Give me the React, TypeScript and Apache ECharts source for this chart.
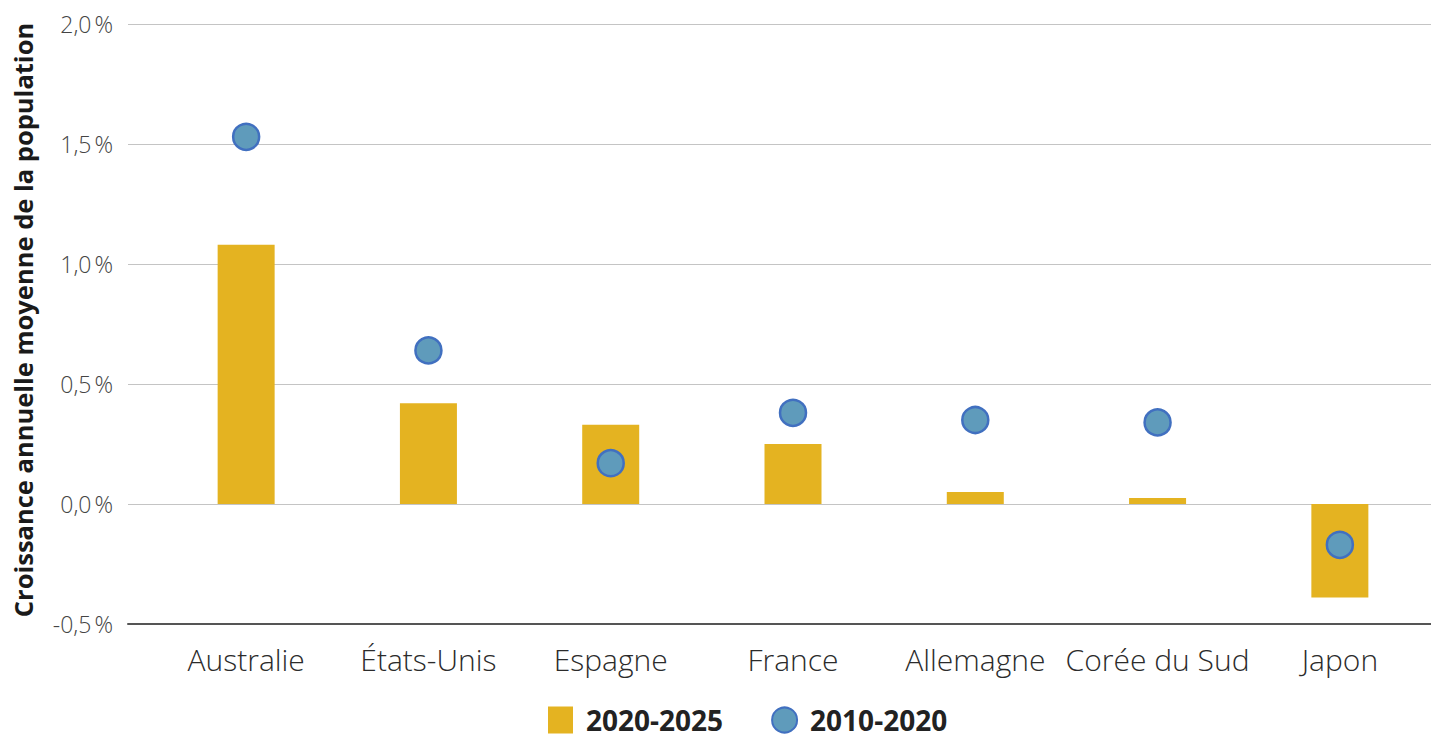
import React, { useEffect, useRef } from "react";
import * as echarts from "echarts";

const categories = ["Australie", "États-Unis", "Espagne", "France", "Allemagne", "Corée du Sud", "Japon"];
const growth2020_2025 = [1.08, 0.42, 0.33, 0.25, 0.05, 0.025, -0.39];
const growth2010_2020 = [1.53, 0.64, 0.17, 0.38, 0.35, 0.34, -0.17];
const yTicks = { min: -0.5, max: 2.0, interval: 0.5 };
const seriesNames = ["2020-2025", "2010-2020"];
const yTitle = "Croissance annuelle moyenne de la population";

const BAR = "#E4B321";
const DOT = "#5F9BBB";
const DOT_BORDER = "#4170C0";
const FONT = "'Open Sans', Lato, sans-serif";

export default function App() {
  const ref = useRef<HTMLDivElement>(null);
  useEffect(() => {
    if (!ref.current) return;
    const chart = echarts.init(ref.current, null, { renderer: "svg" });
    chart.setOption({
      animation: false,
      backgroundColor: "#ffffff",
      grid: [
        { left: 128, right: 0, top: 24, bottom: 114 },
        { left: 155, right: 0, top: 24, bottom: 114 },
      ],
      xAxis: [
        {
          gridIndex: 0,
          type: "category",
          data: [""],
          axisLine: { show: true, onZero: false, lineStyle: { color: "#555555", width: 2 } },
          axisTick: { show: false },
          axisLabel: { show: false },
          splitLine: { show: false },
        },
        {
          gridIndex: 1,
          type: "category",
          data: categories,
          axisLine: { show: false },
          axisTick: { show: false },
          axisLabel: {
            interval: 0,
            fontFamily: FONT,
            fontSize: 30,
            fontWeight: 300,
            color: "#2b2b2b",
            margin: 20,
          },
        },
      ],
      yAxis: [
        {
          gridIndex: 0,
          type: "value",
          min: yTicks.min,
          max: yTicks.max,
          interval: yTicks.interval,
          name: yTitle,
          nameLocation: "middle",
          nameGap: 92,
          nameTextStyle: {
            fontFamily: FONT,
            fontSize: 25.5,
            fontWeight: "bold",
            color: "#1a1a1a",
            padding: [0, 0, 0, 8],
          },
          axisLine: { show: false },
          axisTick: { show: false },
          axisLabel: {
            fontFamily: FONT,
            fontSize: 23,
            fontWeight: 300,
            color: "#444444",
            margin: 15,
            formatter: (v: number) => v.toFixed(1).replace(".", ",") + "\u202F%",
          },
          splitLine: { show: true, lineStyle: { color: "#c4c4c4", width: 1 } },
        },
        {
          gridIndex: 1,
          type: "value",
          min: yTicks.min,
          max: yTicks.max,
          interval: yTicks.interval,
          axisLine: { show: false },
          axisTick: { show: false },
          axisLabel: { show: false },
          splitLine: { show: false },
        },
      ],
      legend: {
        left: 548,
        top: 706,
        padding: 0,
        itemWidth: 25,
        itemHeight: 27,
        itemGap: 48,
        textStyle: {
          fontFamily: FONT,
          fontSize: 28,
          lineHeight: 28,
          fontWeight: "bold",
          color: "#222222",
          padding: [0, 0, 0, 8],
        },
        data: [
          { name: seriesNames[0], icon: "rect" },
          { name: seriesNames[1], icon: "circle" },
        ],
      },
      series: [
        {
          name: seriesNames[0],
          type: "bar",
          xAxisIndex: 1,
          yAxisIndex: 1,
          barWidth: 57,
          data: growth2020_2025,
          itemStyle: { color: BAR },
        },
        {
          name: seriesNames[1],
          type: "scatter",
          xAxisIndex: 1,
          yAxisIndex: 1,
          symbol: "circle",
          symbolSize: 26,
          data: growth2010_2020,
          itemStyle: { color: DOT, borderColor: DOT_BORDER, borderWidth: 2.5, opacity: 1 },
          z: 5,
        },
      ],
    });
    return () => chart.dispose();
  }, []);
  return (
    <div
      ref={ref}
      style={{ position: "fixed", left: 0, top: 0, width: "1431px", height: "738px" }}
    />
  );
}
